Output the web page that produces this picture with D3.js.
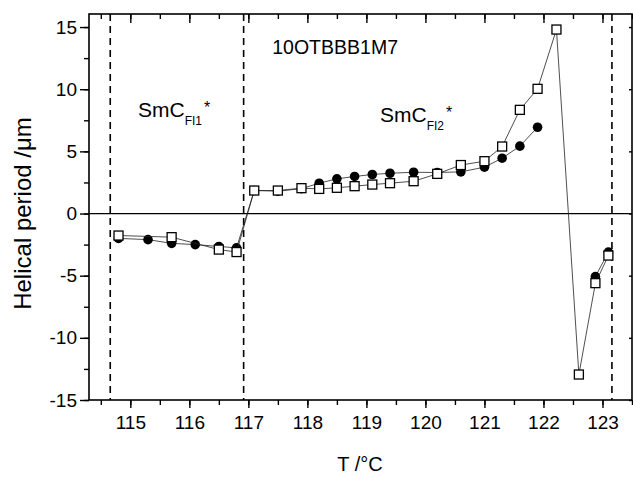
<!DOCTYPE html>
<html><head><meta charset="utf-8">
<script src="https://cdn.jsdelivr.net/npm/d3@7"></script>
<style>body{margin:0;background:#fff}svg{display:block;font-family:"Liberation Sans",Arial,sans-serif}</style>
</head><body>
<svg id="c" width="633" height="478"></svg>
<script>
// Data (T in °C, helical period in µm)
const circleSeg1 = [[114.8,-2.0],[115.3,-2.1],[115.7,-2.4],[116.1,-2.5],[116.5,-2.65],[116.8,-2.76],
  [117.1,1.85],[117.5,1.8],[117.9,2.0],[118.2,2.44],[118.5,2.79],[118.8,2.98],[119.1,3.14],[119.4,3.24],
  [119.8,3.32],[120.2,3.3],[120.6,3.35],[121.0,3.73],[121.3,4.45],[121.6,5.42],[121.9,6.94]];
const circleSeg2 = [[122.88,-5.07],[123.1,-3.1]];
const squareSeries = [[114.8,-1.77],[115.7,-1.9],[116.5,-2.9],[116.8,-3.1],[117.1,1.85],[117.5,1.85],
  [117.9,2.04],[118.2,1.98],[118.5,2.07],[118.8,2.2],[119.1,2.33],[119.4,2.44],[119.8,2.6],[120.2,3.19],
  [120.6,3.9],[121.0,4.21],[121.3,5.39],[121.6,8.34],[121.9,10.03],[122.22,14.8],[122.6,-12.95],
  [122.88,-5.6],[123.1,-3.38]];
const phaseBoundaries = [114.66, 116.92, 123.16];
const xTicks = [115,116,117,118,119,120,121,122,123];
const yTicks = [-15,-10,-5,0,5,10,15];
const xDomain = [114.3, 123.5];
const yDomain = [-15, 16.05];

(function(){
const svg = d3.select("#c");
const L=89, R=632, T=14, B=400;
const x = d3.scaleLinear().domain(xDomain).range([L,R]);
const y = d3.scaleLinear().domain(yDomain).range([B,T]);

// Frame
svg.append("rect").attr("x",L).attr("y",T).attr("width",R-L).attr("height",B-T)
  .attr("fill","none").attr("stroke","#000").attr("stroke-width",1.6);

// Axes
const xMinor = d3.range(114.5,123.51,0.5);
const yMinor = d3.range(-15,16,2.5);
const fmt = d => String(d);
const gBottom = svg.append("g").attr("transform",`translate(0,${B})`);
gBottom.call(d3.axisBottom(x).tickValues(xMinor).tickSize(5).tickFormat(""));
gBottom.selectAll(".domain").remove();
const gBottomMaj = svg.append("g").attr("transform",`translate(0,${B})`)
  .call(d3.axisBottom(x).tickValues(xTicks).tickSize(8).tickPadding(8).tickFormat(fmt));
gBottomMaj.select(".domain").remove();
const gTop1 = svg.append("g").attr("transform",`translate(0,${T})`)
  .call(d3.axisBottom(x).tickValues(xMinor).tickSize(5).tickFormat(""));
gTop1.select(".domain").remove();
const gTop2 = svg.append("g").attr("transform",`translate(0,${T})`)
  .call(d3.axisBottom(x).tickValues(xTicks).tickSize(9).tickFormat(""));
gTop2.select(".domain").remove();
const gLeft = svg.append("g").attr("transform",`translate(${L},0)`)
  .call(d3.axisLeft(y).tickValues(yMinor).tickSize(5).tickFormat(""));
gLeft.select(".domain").remove();
const gLeftMaj = svg.append("g").attr("transform",`translate(${L},0)`)
  .call(d3.axisLeft(y).tickValues(yTicks).tickSize(9).tickPadding(3).tickFormat(fmt));
gLeftMaj.select(".domain").remove();
const gRight = svg.append("g").attr("transform",`translate(${R},0)`)
  .call(d3.axisLeft(y).tickValues(yTicks).tickSize(3).tickFormat(""));
gRight.select(".domain").remove();
svg.selectAll(".tick line").attr("stroke","#000").attr("stroke-width",1.4);
svg.selectAll(".tick text").attr("font-size",19).attr("fill","#000")
  .attr("font-family","'Liberation Sans',Arial,sans-serif");

// Zero line
svg.append("line").attr("x1",L).attr("x2",R).attr("y1",y(0)).attr("y2",y(0))
  .attr("stroke","#000").attr("stroke-width",1.3);

// Phase boundary dashed lines
svg.selectAll(".pb").data(phaseBoundaries).join("line")
  .attr("x1",d=>x(d)).attr("x2",d=>x(d)).attr("y1",T).attr("y2",B)
  .attr("stroke","#000").attr("stroke-width",1.6).attr("stroke-dasharray","7,5");

// Series
const line = d3.line().x(d=>x(d[0])).y(d=>y(d[1]));
[circleSeg1, circleSeg2].forEach(seg=>{
  svg.append("path").attr("d",line(seg)).attr("fill","none").attr("stroke","#222").attr("stroke-width",0.8);
});
svg.selectAll(".cm").data(circleSeg1.concat(circleSeg2)).join("circle")
  .attr("cx",d=>x(d[0])).attr("cy",d=>y(d[1])).attr("r",4.8).attr("fill","#000");
svg.append("path").attr("d",line(squareSeries)).attr("fill","none").attr("stroke","#222").attr("stroke-width",0.8);
const s=9;
svg.selectAll(".sm").data(squareSeries).join("rect")
  .attr("x",d=>x(d[0])-s/2).attr("y",d=>y(d[1])-s/2).attr("width",s).attr("height",s)
  .attr("fill","#fff").attr("stroke","#000").attr("stroke-width",1.3);

// Annotations
svg.append("text").attr("x",x(118.47)).attr("y",y(12.8)).attr("text-anchor","middle")
  .attr("font-size",19.5).text("10OTBBB1M7");
function phaseLabel(tx, val, sub){
  const t = svg.append("text").attr("x",x(tx)).attr("y",y(val)).attr("font-size",21);
  t.append("tspan").text("SmC");
  t.append("tspan").attr("font-size",12).attr("dy",8).text(sub);
  t.append("tspan").attr("font-size",16).attr("dy",-12).attr("dx",2).text("*");
}
phaseLabel(115.13, 7.8, "FI1");
phaseLabel(119.23, 7.35, "FI2");

// Axis titles
svg.append("text").attr("x",360).attr("y",471).attr("text-anchor","middle").attr("font-size",20).text("T /°C");
svg.append("text").attr("transform",`translate(31,${y(0)}) rotate(-90)`).attr("text-anchor","middle")
  .attr("font-size",24).text("Helical period /μm");
})();
</script>
</body></html>
